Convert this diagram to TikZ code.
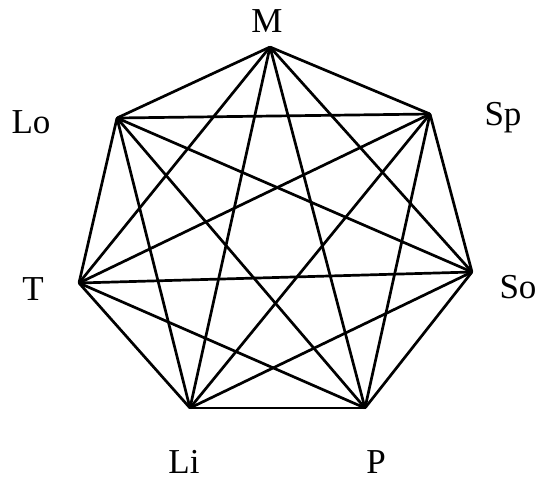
\documentclass[tikz,border=0pt]{standalone}
\usepackage{fontspec}
\setmainfont{Liberation Serif}
\usepackage{tikz}
\tikzset{
  vertex/.style={
    inner sep=0pt,
    minimum size=0pt
  },
  vlabel/.style={
    anchor=base,
    inner sep=0pt,
    font=\fontsize{17.5}{19}\selectfont
  },
  edge/.style={
    draw=black,
    line width=1.35pt,
    line cap=round
  }
}
\begin{document}
\begin{tikzpicture}[x=0.5pt,y=-0.5pt]
  \useasboundingbox (0,0) rectangle (538,478);
  \node[vertex] (m) at (270,47) {};
  \node[vertex] (sp) at (430,114) {};
  \node[vertex] (so) at (472,272) {};
  \node[vertex] (p) at (365,408) {};
  \node[vertex] (li) at (190,408) {};
  \node[vertex] (t) at (79,283) {};
  \node[vertex] (lo) at (117,118) {};
  \node[vlabel] (mlab) at (267,32) {M};
  \node[vlabel] (splab) at (503,125) {Sp};
  \node[vlabel] (solab) at (518,298) {So};
  \node[vlabel] (plab) at (376,473) {P};
  \node[vlabel] (lilab) at (184,473) {Li};
  \node[vlabel] (tlab) at (33,300) {T};
  \node[vlabel] (lolab) at (31,133) {Lo};
  \foreach \a [count=\i] in {m,sp,so,p,li,t,lo}{
    \foreach \b [count=\j] in {m,sp,so,p,li,t,lo}{
      \ifnum\j>\i \draw[edge] (\a) -- (\b); \fi
    }
  }
\end{tikzpicture}
\end{document}
